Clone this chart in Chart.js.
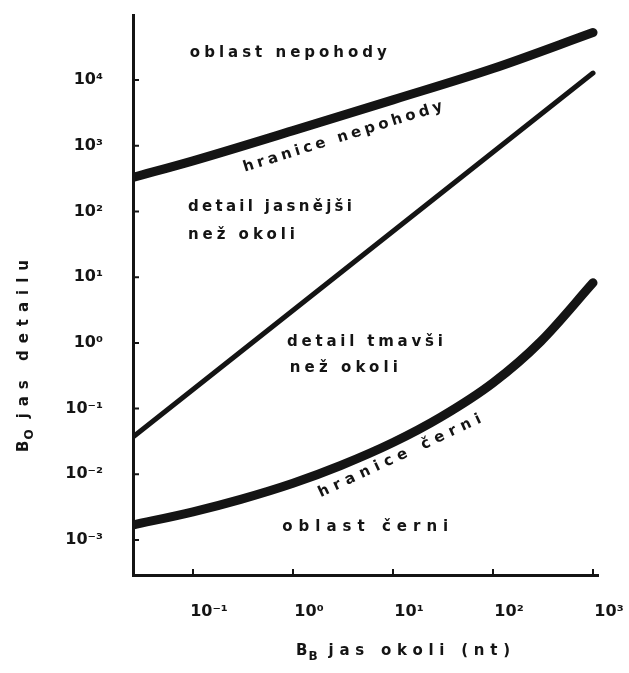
<!DOCTYPE html>
<html>
<head>
<meta charset="utf-8">
<script src="https://cdn.jsdelivr.net/npm/chart.js@4.4.1/dist/chart.umd.min.js"></script>
<style>
    html, body { margin: 0; padding: 0; background: #fff; }
    canvas { display: block; }
</style>
</head>
<body>
<canvas id="chart" width="629" height="673"></canvas>
<script>
// B_B surround luminance (nt) vs B_O detail luminance, both log
// hranice nepohody (glare limit)
const glareX = [0.0251, 0.1, 1, 10, 100, 1000];
const glareY = [330, 590, 1700, 5000, 15000, 53000];

// detail == surround
const equalX = [0.0251, 1000];
const equalY = [0.037, 12800];

// hranice cerni (black limit)
const blackX = [0.0251, 0.1, 0.3, 1, 3, 10, 30, 100, 300, 1000];
const blackY = [0.00169, 0.00268, 0.00415, 0.0073, 0.0136, 0.0304, 0.074, 0.246, 1.05, 8.2];

const xTicks = [0.1, 1, 10, 100, 1000];
const yTicks = [0.001, 0.01, 0.1, 1, 10, 100, 1000, 10000];

const INK = '#141414';
const FONT = '"DejaVu Sans"';

// region labels, placed in data coordinates
const notes = [
    { text: 'oblast nepohody', x: 0.093, y: 25700, width: 197 },
    { text: 'hranice nepohody', x: 3.16, y: 1355, width: 208, angle: -17.3 },
    { text: 'detail jasnějši', x: 0.089, y: 117, width: 164 },
    { text: 'než okoli', x: 0.089, y: 43.8, width: 107 },
    { text: 'detail tmavši', x: 0.87, y: 1.03, width: 156 },
    { text: 'než okoli', x: 0.93, y: 0.41, width: 108 },
    { text: 'hranice černi', x: 11.7, y: 0.0189, width: 178, angle: -25 },
    { text: 'oblast černi', x: 0.78, y: 0.00158, width: 166 }
];

const SUP = { '-': '⁻', '0': '⁰', '1': '¹', '2': '²', '3': '³', '4': '⁴' };

function powerLabel(v) {
    const e = Math.round(Math.log10(v));
    return '10' + String(e).split('').map(c => SUP[c]).join('');
}

function toPoints(xs, ys) {
    return xs.map((x, i) => ({ x: x, y: ys[i] }));
}

// draws text stretched to a given width by letter spacing
function spacedText(ctx, text, x, y, width) {
    ctx.letterSpacing = '0px';
    const w0 = ctx.measureText(text).width;
    const gap = Math.max(0, (width - w0) / (text.length - 1));
    ctx.letterSpacing = gap + 'px';
    ctx.fillText(text, x, y);
    ctx.letterSpacing = '0px';
}

// "B" + subscript + rest, starting at (0,0) in current transform
function subLabel(ctx, main, sub, rest, width) {
    ctx.font = 'bold 15px ' + FONT;
    ctx.fillText(main, 0, 0);
    const wMain = ctx.measureText(main).width;
    ctx.font = 'bold 12px ' + FONT;
    ctx.fillText(sub, wMain + 1, 5);
    const wSub = ctx.measureText(sub).width;
    ctx.font = 'bold 15px ' + FONT;
    const start = wMain + wSub + 12;
    spacedText(ctx, rest, start, 0, width - start);
}

const paperPlugin = {
    id: 'paper',
    beforeDraw(chart) {
        const ctx = chart.ctx;
        ctx.save();
        ctx.fillStyle = '#fff';
        ctx.fillRect(0, 0, chart.width, chart.height);
        ctx.restore();
    },
    afterDraw(chart) {
        const { ctx, chartArea, scales } = chart;
        ctx.save();

        // inward tick stubs
        ctx.strokeStyle = INK;
        ctx.lineWidth = 2;
        ctx.beginPath();
        yTicks.forEach(v => {
            const py = scales.y.getPixelForValue(v);
            ctx.moveTo(chartArea.left, py);
            ctx.lineTo(chartArea.left + 6, py);
        });
        xTicks.forEach(v => {
            const px = scales.x.getPixelForValue(v);
            ctx.moveTo(px, chartArea.bottom);
            ctx.lineTo(px, chartArea.bottom - 6);
        });
        ctx.stroke();

        // region labels
        ctx.fillStyle = INK;
        ctx.font = 'bold 15px ' + FONT;
        ctx.textBaseline = 'middle';
        ctx.textAlign = 'left';
        notes.forEach(n => {
            const px = scales.x.getPixelForValue(n.x);
            const py = scales.y.getPixelForValue(n.y);
            ctx.save();
            ctx.translate(px, py);
            if (n.angle) {
                ctx.rotate(n.angle * Math.PI / 180);
                spacedText(ctx, n.text, -n.width / 2, 0, n.width);
            } else {
                spacedText(ctx, n.text, 0, 0, n.width);
            }
            ctx.restore();
        });

        // axis titles
        ctx.textBaseline = 'alphabetic';
        ctx.save();
        ctx.translate(296, 655);
        subLabel(ctx, 'B', 'B', 'jas okoli (nt)', 214);
        ctx.restore();

        ctx.save();
        ctx.translate(28, 452);
        ctx.rotate(-Math.PI / 2);
        subLabel(ctx, 'B', 'O', 'jas detailu', 192);
        ctx.restore();

        ctx.restore();
    }
};

const tickFont = { family: FONT, size: 16, weight: 'bold' };

const ctx = document.getElementById('chart').getContext('2d');
const chart = new Chart(ctx, {
    type: 'scatter',
    data: {
        datasets: [
            {
                label: 'hranice nepohody',
                data: toPoints(glareX, glareY),
                borderColor: INK,
                borderWidth: 9,
                cubicInterpolationMode: 'monotone'
            },
            {
                label: 'detail = okoli',
                data: toPoints(equalX, equalY),
                borderColor: INK,
                borderWidth: 5
            },
            {
                label: 'hranice černi',
                data: toPoints(blackX, blackY),
                borderColor: INK,
                borderWidth: 9,
                cubicInterpolationMode: 'monotone'
            }
        ].map(d => Object.assign(d, {
            showLine: true,
            pointRadius: 0,
            borderCapStyle: 'round',
            borderJoinStyle: 'round'
        }))
    },
    options: {
        responsive: false,
        animation: false,
        layout: { padding: { top: 15, right: 31, left: 0, bottom: 0 } },
        plugins: {
            legend: { display: false },
            tooltip: { enabled: false }
        },
        scales: {
            x: {
                type: 'logarithmic',
                min: Math.pow(10, -1.6),
                max: Math.pow(10, 3.05),
                grid: { display: false },
                border: { display: true, width: 3, color: INK },
                ticks: {
                    color: INK,
                    font: tickFont,
                    padding: 19,
                    labelOffset: 16,
                    autoSkip: false,
                    maxRotation: 0,
                    callback: v => powerLabel(v)
                },
                afterBuildTicks: s => { s.ticks = xTicks.map(v => ({ value: v })); },
                afterFit: s => { s.height = 98; s.paddingLeft = 0; s.paddingRight = 0; }
            },
            y: {
                type: 'logarithmic',
                min: Math.pow(10, -3.533),
                max: Math.pow(10, 4.991),
                grid: { display: false },
                border: { display: true, width: 3, color: INK },
                ticks: {
                    color: INK,
                    font: tickFont,
                    padding: 22,
                    autoSkip: false,
                    callback: v => powerLabel(v)
                },
                afterBuildTicks: s => { s.ticks = yTicks.map(v => ({ value: v })); },
                afterFit: s => { s.width = 133; s.paddingTop = 0; s.paddingBottom = 0; }
            }
        }
    },
    plugins: [paperPlugin]
});
</script>
</body>
</html>
